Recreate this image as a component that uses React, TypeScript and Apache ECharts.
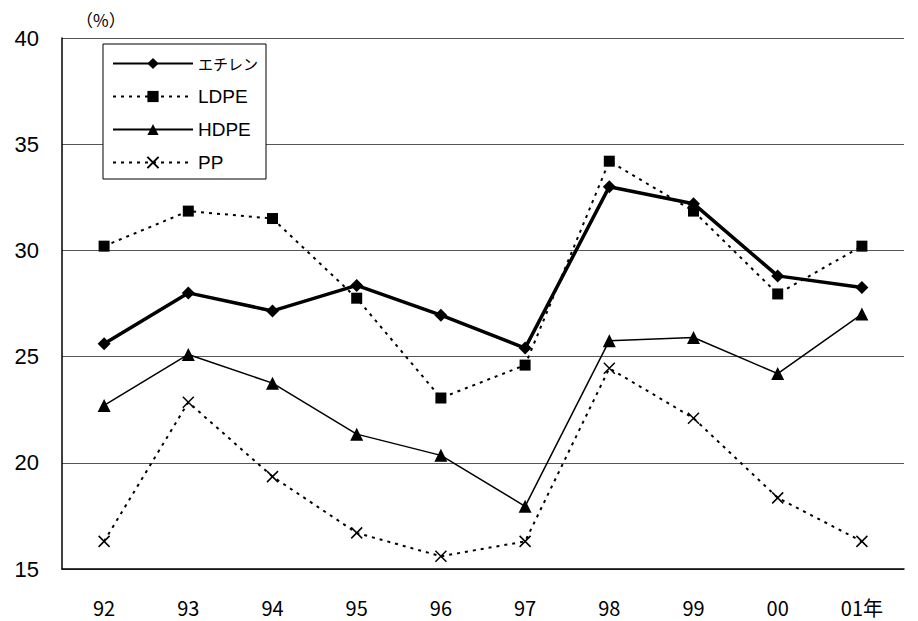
import React, { useEffect, useRef } from "react";
import * as echarts from "echarts";

const categories = ["92", "93", "94", "95", "96", "97", "98", "99", "00", "01年"];
const seriesNames = ["エチレン", "LDPE", "HDPE", "PP"];
const ethylene = [25.6, 28.0, 27.15, 28.35, 26.95, 25.4, 33.0, 32.2, 28.8, 28.25];
const ldpe = [30.2, 31.85, 31.5, 27.75, 23.05, 24.6, 34.2, 31.85, 27.95, 30.2];
const hdpe = [22.7, 25.1, 23.75, 21.35, 20.35, 17.95, 25.75, 25.9, 24.2, 27.0];
const pp = [16.3, 22.85, 19.35, 16.7, 15.6, 16.3, 24.45, 22.1, 18.35, 16.3];
const yTicks = { min: 15, max: 40, interval: 5 };

export default function App() {
  const ref = useRef<HTMLDivElement>(null);
  useEffect(() => {
    if (!ref.current) return;
    const chart = echarts.init(ref.current, null, { renderer: "svg" });
    const cross = "path://M0,0L10,10M10,0L0,10";
    chart.setOption({
      animation: false,
      backgroundColor: "#fff",
      grid: { left: 62, right: 14, top: 38, bottom: 52 },
      legend: {
        orient: "vertical",
        left: 103,
        top: 44,
        padding: [10, 8, 7, 9],
        itemWidth: 80,
        itemHeight: 14,
        itemGap: 14,
        borderColor: "#000",
        borderWidth: 1,
        backgroundColor: "#fff",
        formatter: (name: string) =>
          /^[A-Za-z]+$/.test(name) ? name : `{k|${name}}`,
        textStyle: {
          fontFamily: "Liberation Sans, Noto Sans CJK JP",
          fontSize: 19,
          lineHeight: 19,
          color: "#000",
          rich: {
            k: {
              fontFamily: "Noto Sans CJK JP",
              fontSize: 15,
              lineHeight: 19,
              color: "#000",
            },
          },
        },
        data: seriesNames,
      },
      xAxis: {
        type: "category",
        data: categories,
        boundaryGap: true,
        axisLine: { lineStyle: { color: "#000", width: 1.5 } },
        axisTick: { inside: true, length: 7, lineStyle: { color: "#000" } },
        axisLabel: {
          margin: 28,
          fontFamily: "Noto Sans CJK JP",
          fontSize: 20,
          color: "#000",
        },
      },
      yAxis: {
        type: "value",
        min: yTicks.min,
        max: yTicks.max,
        interval: yTicks.interval,
        name: "（%）",
        nameLocation: "end",
        nameGap: 10,
        nameTextStyle: {
          fontFamily: "Noto Sans CJK JP",
          fontSize: 17,
          color: "#000",
          align: "left",
          padding: [0, 0, 0, 14],
        },
        axisLine: { show: true, lineStyle: { color: "#000", width: 1.5 } },
        axisTick: { show: false },
        axisLabel: {
          margin: 23,
          fontFamily: "Liberation Sans",
          fontSize: 22,
          color: "#000",
        },
        splitLine: { show: true, lineStyle: { color: "#555", width: 1 } },
      },
      series: [
        {
          name: seriesNames[0],
          type: "line",
          data: ethylene,
          symbol: "diamond",
          symbolSize: 13,
          itemStyle: { color: "#000" },
          lineStyle: { color: "#000", width: 3.5, type: "solid" },
          z: 5,
        },
        {
          name: seriesNames[1],
          type: "line",
          data: ldpe,
          symbol: "rect",
          symbolSize: 11,
          itemStyle: { color: "#000" },
          lineStyle: { color: "#000", width: 2, type: [3, 5] },
          z: 4,
        },
        {
          name: seriesNames[2],
          type: "line",
          data: hdpe,
          symbol: "triangle",
          symbolSize: 13,
          itemStyle: { color: "#000" },
          lineStyle: { color: "#000", width: 1.5, type: "solid" },
          z: 3,
        },
        {
          name: seriesNames[3],
          type: "line",
          data: pp,
          symbol: cross,
          symbolSize: 11,
          itemStyle: { color: "none", borderColor: "#000", borderWidth: 1.5 },
          lineStyle: { color: "#000", width: 2, type: [3, 5] },
          z: 2,
        },
      ],
    });
    return () => chart.dispose();
  }, []);
  return (
    <div
      ref={ref}
      style={{ position: "fixed", left: 0, top: 0, width: 918, height: 621 }}
    />
  );
}
